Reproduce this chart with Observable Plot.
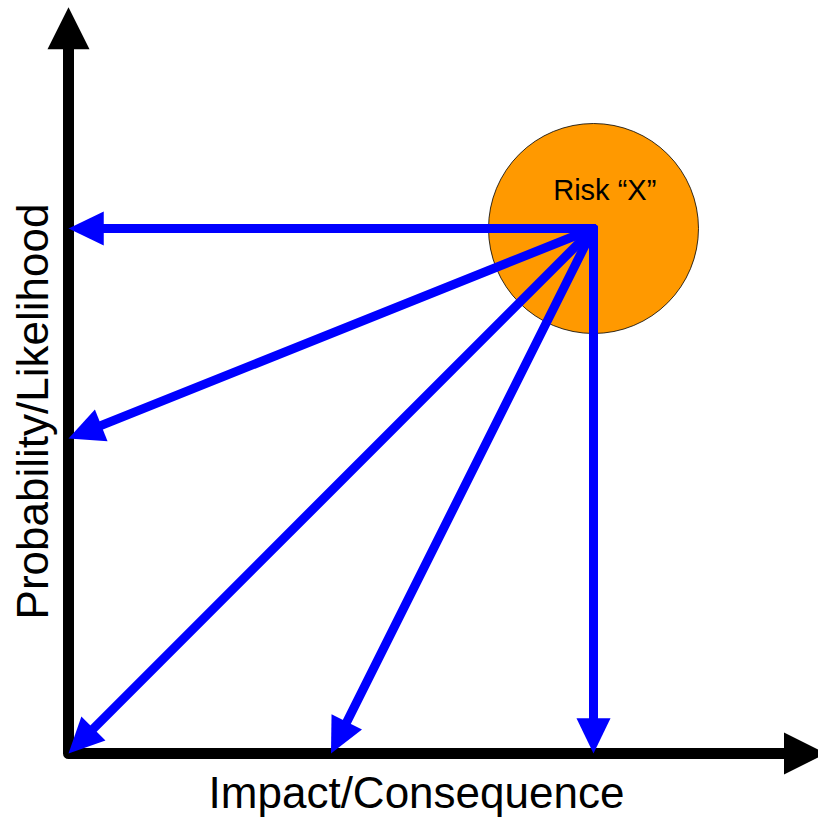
<!DOCTYPE html>
<html>
<head>
<meta charset="utf-8">
<script src="https://cdn.jsdelivr.net/npm/d3@7"></script>
<script src="https://cdn.jsdelivr.net/npm/@observablehq/plot@0.6"></script>
<style>
  html, body { margin: 0; padding: 0; background: #fff; overflow: hidden; }
</style>
</head>
<body>
<div id="chart"></div>
<script>
// ---- data (abstract units, 0..10 on both axes) ----
const riskX = 7;
const riskY = 7;
const riskLabel = "Risk \u201CX\u201D";
const targetX = [0, 0, 0, 3.5, 7];
const targetY = [7, 4.2, 0, 0, 0];
const xAxisLabel = "Impact/Consequence";
const yAxisLabel = "Probability/Likelihood";
const xAxisEnd = 10.1;
const yAxisEnd = 9.95;

// ---- helpers ----
function head(id, x0, y0, x1, y1, len, hw) {
  const dx = x1 - x0, dy = y1 - y0, d = Math.hypot(dx, dy);
  const ux = dx / d, uy = dy / d;
  const bx = x1 - ux * len, by = y1 - uy * len;
  return [
    {id, x: x1, y: y1},
    {id, x: bx - uy * hw, y: by + ux * hw},
    {id, x: bx + uy * hw, y: by - ux * hw}
  ];
}
function shaftEnd(x0, y0, x1, y1, len) {
  const dx = x1 - x0, dy = y1 - y0, d = Math.hypot(dx, dy);
  return {x: x1 - dx / d * len, y: y1 - dy / d * len};
}

const arrows = targetX.map((x, i) => ({id: "a" + i, x1: riskX, y1: riskY, x2: x, y2: targetY[i]}));
const blueLen = 0.47, blueHW = 0.227;
const shafts = arrows.map(a => {
  const e = shaftEnd(a.x1, a.y1, a.x2, a.y2, blueLen * 0.85);
  return {x1: a.x1, y1: a.y1, x2: e.x, y2: e.y};
});
const blueHeads = arrows.flatMap(a => head(a.id, a.x1, a.y1, a.x2, a.y2, blueLen, blueHW));

const axLen = 0.56, axHW = 0.28;
const axisPath = [
  {x: 0, y: yAxisEnd - axLen * 0.9},
  {x: 0, y: 0},
  {x: xAxisEnd - axLen * 0.9, y: 0}
];
const axisHeads = [
  ...head("v", 0, 0, 0, yAxisEnd, axLen, axHW),
  ...head("h", 0, 0, xAxisEnd, 0, axLen, axHW)
];

const font = "Liberation Sans, Arial, Helvetica, sans-serif";

const chart = Plot.plot({
  width: 818,
  height: 818,
  marginLeft: 68,
  marginRight: 0,
  marginTop: 3,
  marginBottom: 65,
  x: {domain: [0, 10], axis: null},
  y: {domain: [0, 10], axis: null},
  style: {fontFamily: font, overflow: "hidden", background: "#fff"},
  marks: [
    Plot.line(axisPath, {x: "x", y: "y", stroke: "black", strokeWidth: 11, strokeLinejoin: "round", strokeLinecap: "butt"}),
    Plot.line(axisHeads, {x: "x", y: "y", z: "id", fill: "black", stroke: "none"}),
    Plot.dot([{x: riskX, y: riskY}], {x: "x", y: "y", r: 105, fill: "#FF9900", stroke: "black", strokeWidth: 0.8}),
    Plot.link(shafts, {x1: "x1", y1: "y1", x2: "x2", y2: "y2", stroke: "#0000FF", strokeWidth: 9, strokeLinecap: "round"}),
    Plot.line(blueHeads, {x: "x", y: "y", z: "id", fill: "#0000FF", stroke: "none"}),
    Plot.text([riskLabel], {x: riskX + 0.15, y: riskY + 0.51, text: d => d, fontSize: 29, fill: "black", fontFamily: font}),
    Plot.text([xAxisLabel], {x: 4.64, y: -0.545, text: d => d, fontSize: 44, fill: "black", fontFamily: font}),
    Plot.text([yAxisLabel], {x: -0.455, y: 4.56, text: d => d, rotate: -90, fontSize: 44, fill: "black", fontFamily: font})
  ]
});
document.getElementById("chart").appendChild(chart);
</script>
</body>
</html>
